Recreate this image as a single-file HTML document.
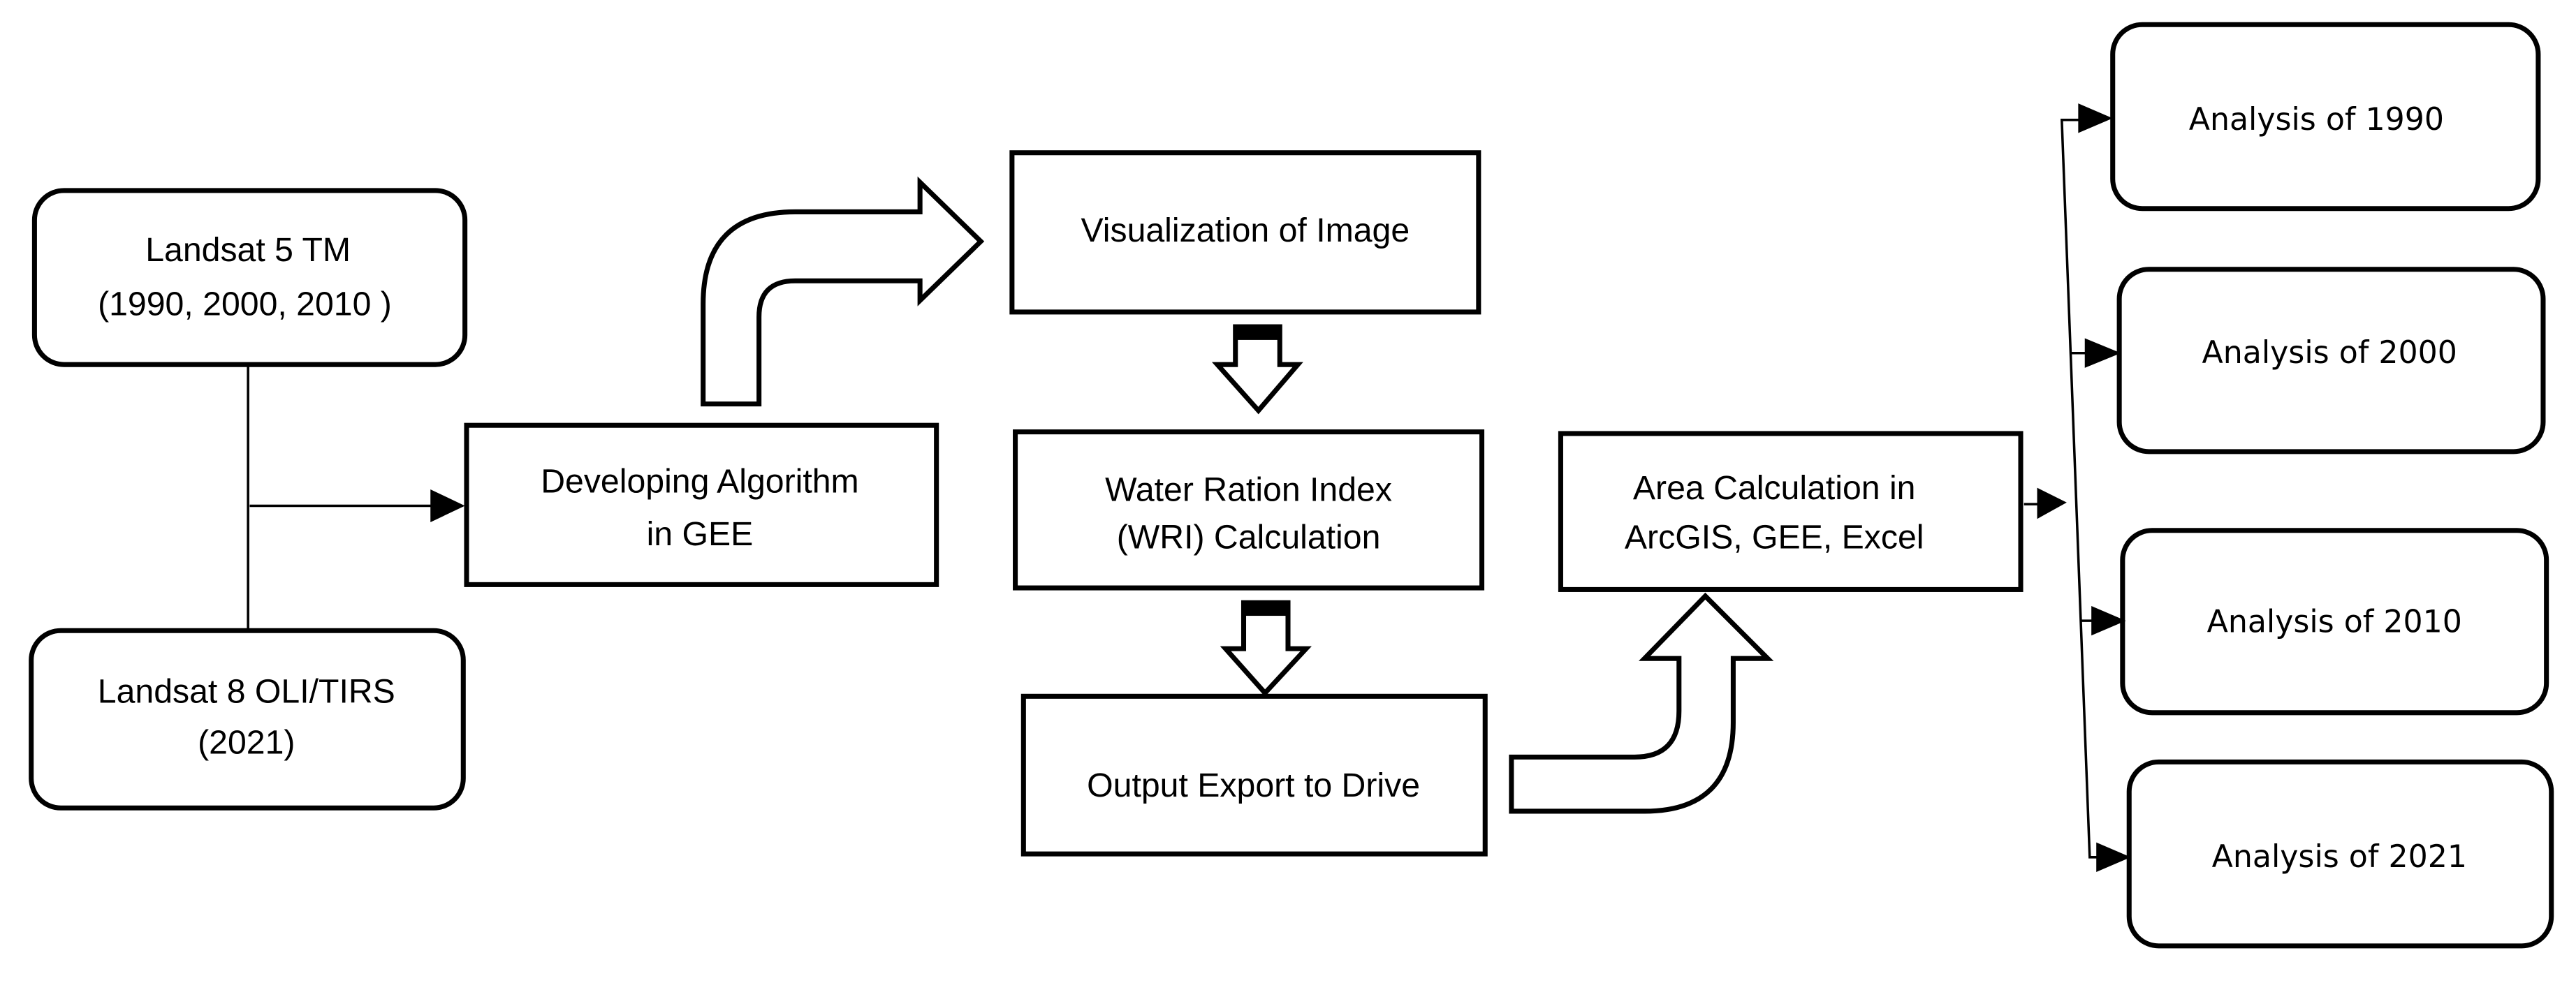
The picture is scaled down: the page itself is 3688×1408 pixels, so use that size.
<!DOCTYPE html>
<html><head><meta charset="utf-8"><style>
html,body{margin:0;padding:0;background:#fff;}
svg{display:block;}
.t{font-family:"Liberation Sans",sans-serif;font-size:20.5px;fill:#000;text-anchor:middle;}
.a{font-family:"DejaVu Sans",sans-serif;font-size:18.8px;fill:#000;text-anchor:middle;}
</style></head><body>
<svg width="3688" height="1408" viewBox="0 0 1568 598.6" preserveAspectRatio="none" xmlns="http://www.w3.org/2000/svg">
<rect width="1568" height="598.6" fill="#fff"/>
<g fill="none" stroke="#000" stroke-width="3">
<rect x="21" y="116" width="262" height="106" rx="18"/>
<rect x="19" y="384" width="263" height="108" rx="18"/>
<rect x="284" y="259" width="286" height="97"/>
<rect x="616" y="93" width="284" height="97"/>
<rect x="618" y="263" width="284" height="95"/>
<rect x="623" y="424" width="281" height="96"/>
<rect x="950" y="264" width="280" height="95"/>
<rect x="1286" y="15" width="259" height="112" rx="18"/>
<rect x="1290" y="164" width="258" height="111" rx="18"/>
<rect x="1292" y="323" width="258" height="111" rx="18"/>
<rect x="1296" y="464" width="257" height="112" rx="18"/>
<path d="M428,246 L428,185 Q428,129 484,129 L560,129 L560,111 L597,147 L560,183 L560,171 L484,171 Q462,171 462,193 L462,246 Z" stroke-linejoin="miter"/>
<path d="M920,461 L995,461 Q1022,461 1022,433 L1022,401 L1001,401 L1038,363 L1076,401 L1055,401 L1055,440 Q1055,494 1001,494 L920,494 Z"/>
<path d="M752,199 L779,199 L779,222 L790,222 L766,250 L741,222 L752,222 Z"/>
<path d="M757,367 L784,367 L784,395 L795,395 L770,422 L746,395 L757,395 Z"/>
</g>
<rect x="752" y="198" width="27" height="9" fill="#000"/>
<rect x="757" y="366" width="27" height="9" fill="#000"/>
<g stroke="#000" stroke-width="1.5" fill="none">
<line x1="151" y1="222" x2="151" y2="384"/>
<line x1="152" y1="308" x2="265" y2="308"/>
<line x1="1232" y1="307" x2="1242" y2="307"/>
<polyline points="1266,73 1255,73 1272,522 1278,522"/>
<line x1="1260.5" y1="215" x2="1272" y2="215"/>
<line x1="1266" y1="378" x2="1275" y2="378"/>
</g>
<g fill="#000">
<polygon points="262,298 283,308 262,318"/>
<polygon points="1240,297 1258,306 1240,316"/>
<polygon points="1265,63 1286,72 1265,81"/>
<polygon points="1269,206 1291,215 1269,224"/>
<polygon points="1273,369 1294,378 1273,387"/>
<polygon points="1276,513 1297,522 1276,531"/>
</g>
<text class="t" x="151" y="159">Landsat 5 TM</text>
<text class="t" x="149" y="192">(1990, 2000, 2010 )</text>
<text class="t" x="150" y="428">Landsat 8 OLI/TIRS</text>
<text class="t" x="150" y="459">(2021)</text>
<text class="t" x="426" y="300">Developing Algorithm</text>
<text class="t" x="426" y="332">in GEE</text>
<text class="t" x="758" y="147">Visualization of Image</text>
<text class="t" x="760" y="305">Water Ration Index</text>
<text class="t" x="760" y="334">(WRI) Calculation</text>
<text class="t" x="763" y="485">Output Export to Drive</text>
<text class="t" x="1080" y="304">Area Calculation in</text>
<text class="t" x="1080" y="334">ArcGIS, GEE, Excel</text>
<text class="a" x="1410" y="79">Analysis of 1990</text>
<text class="a" x="1418" y="221">Analysis of 2000</text>
<text class="a" x="1421" y="385">Analysis of 2010</text>
<text class="a" x="1424" y="528">Analysis of 2021</text>
</svg>
</body></html>
